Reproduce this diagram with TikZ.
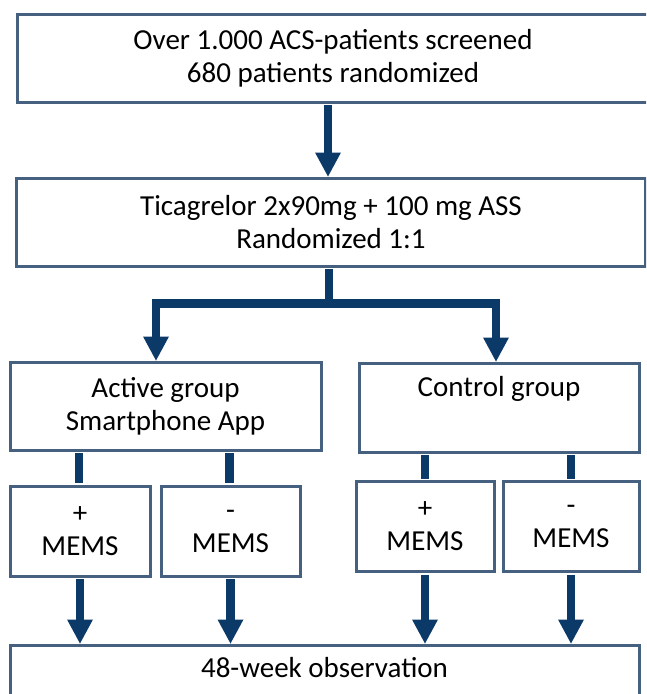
\documentclass[tikz,border=0pt]{standalone}
\usepackage{fontspec}
\setmainfont{Carlito}
\usepackage{tikz}
\usetikzlibrary{arrows.meta,positioning,calc}
\definecolor{flownavy}{RGB}{12,58,104}
\definecolor{boxslate}{RGB}{70,97,128}

\begin{document}
\begin{tikzpicture}[x=1pt,y=-1pt]
		\tikzstyle{flowbox}=[rectangle,draw=boxslate,line width=3pt,
		align=center,inner sep=0pt,font=\fontsize{29}{33}\selectfont]
		\tikzstyle{memsbox}=[flowbox,minimum width=138pt,minimum height=90pt]
		\tikzstyle{flowline}=[flownavy,line width=8.5pt]
		\tikzstyle{flowarrow}=[flowline,-{Triangle[width=26pt,length=24pt,line width=0pt]}]
		\clip (0,0) rectangle (646,694);
		% study flow, top to bottom
		\node[flowbox,minimum width=632pt,minimum height=88pt] (screen) at (333,58)
		{Over 1.000 ACS-patients screened\\680 patients randomized};
		\node[flowbox,minimum width=629pt,minimum height=88pt] (rand) at (331,222)
		{Ticagrelor 2x90mg + 100 mg ASS\\Randomized 1:1};
		\node[flowbox,minimum width=311pt,minimum height=88pt] (active) at (165.5,406)
		{Active group\\Smartphone App};
		\node[flowbox,minimum width=280pt,minimum height=89pt] (control) at (499,407.5)
		{Control group\\\strut};
		\node[memsbox,minimum width=140pt] (mp1) at (80,531)    {+\\MEMS};
		\node[memsbox,minimum width=139pt] (mm1) at (230.5,531) {-\\MEMS};
		\node[memsbox] (mp2) at (425,526.5) {+\\MEMS};
		\node[memsbox,minimum width=136pt] (mm2) at (571,526.5) {-\\MEMS};
		\node[flowbox,minimum width=629pt,minimum height=88pt] (obs) at (324.5,689)
		{48-week observation\\\strut};
		% connectors
		\draw[flowarrow,shorten <=1.5pt] ([xshift=-5pt]screen.south) -- ([xshift=-5pt]screen.south |- rand.north);
		\draw[flowline,shorten <=1.5pt] ([xshift=-2pt]rand.south) -- ++(0,36) coordinate (split);
		\draw[flowarrow] (split) -| ([xshift=-9.5pt]active.north);
		\draw[flowarrow] (split) -| ([xshift=-3pt]control.north);
		\foreach \m in {mp1,mm1}
		\draw[flowline,shorten <=1.5pt,shorten >=1.5pt] ([xshift=-1pt]active.south -| \m.north) -- ([xshift=-1pt]\m.north);
		\foreach \m in {mp2,mm2}
		\draw[flowline,shorten <=1.5pt,shorten >=1.5pt] (control.south -| \m.north) -- (\m.north);
		\foreach \m in {mp1,mm1,mp2,mm2}
		\draw[flowarrow,shorten <=1.5pt] (\m.south) -- (\m.south |- obs.north);
	\end{tikzpicture}
\end{document}
